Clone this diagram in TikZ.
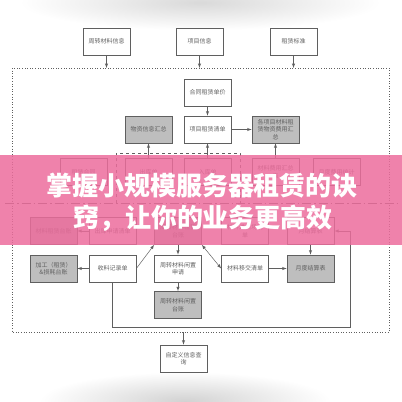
\documentclass[tikz,border=0pt]{standalone}
\usepackage{fontspec}
\setmainfont{Noto Sans CJK SC}
\usetikzlibrary{fadings}
\tikzfading[name=fuzzy,inner color=transparent!0,outer color=transparent!100]
\definecolor{linegray}{RGB}{95,95,95}
\definecolor{boxgray}{RGB}{190,190,190}
\definecolor{bannerpink}{RGB}{236,108,156}
\tikzset{
  box/.style={draw=linegray,line width=0.6pt,minimum width=47pt,minimum height=27pt,
    align=center,inner sep=1pt,text=linegray,
    font=\fontsize{6}{7.5}\selectfont},
  graybox/.style={box,fill=boxgray},
  conn/.style={-latex,draw=linegray,line width=0.5pt},
}
\begin{document}
\begin{tikzpicture}[x=1pt,y=-1pt]
  \useasboundingbox (0,0) rectangle (402,402);
  \fill[gray!30,path fading=fuzzy] (20,-25) rectangle (380,30);
  \fill[gray!35,path fading=fuzzy] (40,372) rectangle (330,430);

  % inputs
  \node[box] (cailiao) at (106.5,41.5) {周转材料信息};
  \node[box] (xiangmu) at (199.5,41.5) {项目信息};
  \node[box] (biaozhun) at (293.5,41.5) {租赁标准};
  \draw[dotted,linegray,line width=0.6pt] (12,68) rectangle (389,332);
  \coordinate (frametop) at (0,68);
  \coordinate (framebot) at (0,332);
  \foreach \n in {cailiao,xiangmu,biaozhun}
    \draw[conn] (\n) -- (\n |- frametop);

  \node[box] (danjia) at (207.5,92.5) {合同租赁单价};
  \node[box] (qingdan) at (207.5,129.5) {项目租赁清单};
  \node[graybox] (wuzi) at (148.5,129.5) {物资信息汇总};
  \node[graybox] (feiyong) at (275.5,129.5) {各项目材料租\\赁物资费用汇\\总};
  \draw[conn] (danjia) -- (qingdan);
  \draw[conn] (qingdan) -- (feiyong);

  \node[box] (hetong) at (83.5,172) {租赁合同};
  \node[box] (chuku) at (148.5,172) {出库单};
  \node[box] (ruku) at (207.5,172) {入库单};
  \node[box] (mingxi) at (275.5,172) {材料费用汇总\\表};
  \node[box] (tongji) at (336.5,172) {月度费用统计};
  \draw[conn] (chuku) -- (wuzi);
  \draw[conn] (ruku) -- (qingdan);
  \draw[conn] (mingxi) -- (feiyong);
  \draw[dashed,linegray,line width=0.6pt] (116,203) -- (116,153) -- (240,153) -- (240,203);
  \draw[linegray,line width=0.5pt,dash pattern=on 9pt off 3pt on 1.5pt off 3pt] (5,203) -- (400,203);

  \node[graybox] (zulin) at (53.5,231) {材料租赁台账};
  \node[box] (shenqing) at (112.5,231) {出库申请清单};
  \node[graybox] (zztz) at (178,231) {周转材料租赁\\台账};
  \node[box] (jinchu) at (245,231) {材料进出场清\\单};
  \node[box] (yuejie) at (310.5,231) {月结算表};
  \draw[conn] (shenqing) -- (zulin);

  \node[graybox] (sunhao) at (53.5,268.5) {加工（租赁）\\\&损耗台账};
  \node[box] (shoulu) at (112.5,268.5) {收料记录单};
  \node[box] (xianzhi) at (178,268.5) {周转材料闲置\\申请};
  \node[box] (yijiao) at (245,268.5) {材料移交清单};
  \node[graybox] (jiesuan) at (310.5,268.5) {月度结算表};
  \node[graybox] (xztz) at (178,305) {周转材料闲置\\台账};
  \draw[conn] (shoulu) -- (sunhao);
  \draw[conn] (shoulu.east) -- (zztz.south west);
  \draw[conn,latex-latex] (zztz.south east) -- (yijiao.west);
  \draw[conn] (zztz) -- (xianzhi);
  \draw[conn] (xianzhi) -- (xztz);
  \draw[conn] (yijiao) -- (jiesuan);
  \draw[conn] (yuejie) -- (jiesuan);
  \draw[conn] (shoulu.south) -- (112.5,327) -- (350,327) -- (350,231) -- (yuejie.east);

  \node[box] (chaxun) at (183.5,358.5) {自定义信息查\\询};
  \draw[conn] (chaxun |- framebot) -- (chaxun);

  % banner
  \fill[bannerpink,opacity=0.85] (0,155) rectangle (402,245);
  \node[text=white,font=\fontsize{26}{26}\selectfont\bfseries] (title1) at (202,186) {掌握小规模服务器租赁的诀};
  \node[text=white,font=\fontsize{26}{26}\selectfont\bfseries] (title2) at (203,218) {窍，让你的业务更高效};
\end{tikzpicture}
\end{document}
